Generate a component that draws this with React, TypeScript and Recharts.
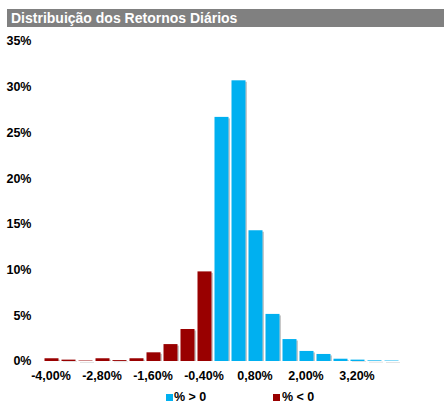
import React from "react";
import { BarChart, Bar, XAxis, YAxis } from "recharts";

const categories = [
  "-4,00%", "-3,60%", "-3,20%", "-2,80%", "-2,40%", "-2,00%", "-1,60%",
  "-1,20%", "-0,80%", "-0,40%", "0,00%", "0,40%", "0,80%", "1,20%",
  "1,60%", "2,00%", "2,40%", "2,80%", "3,20%", "3,60%", "4,00%",
];
const negValues: (number | null)[] = [
  0.3, 0.15, 0.05, 0.3, 0.1, 0.3, 0.95, 1.85, 3.5, 9.8,
  null, null, null, null, null, null, null, null, null, null, null,
];
const posValues: (number | null)[] = [
  null, null, null, null, null, null, null, null, null, null,
  26.7, 30.7, 14.3, 5.15, 2.4, 1.1, 0.77, 0.25, 0.15, 0.07, 0.05,
];
const yTicks = [0, 5, 10, 15, 20, 25, 30, 35];
const title = "Distribuição dos Retornos Diários";
const posName = "% > 0";
const negName = "% < 0";
const posColor = "#00B0F0";
const negColor = "#990000";

const data = categories.map((c, i) => ({ cat: c, pos: posValues[i], neg: negValues[i] }));

const FONT = "'Liberation Sans', Arial, sans-serif";

const ShadowBar = (props: any) => {
  const { x, y, width, height, fill } = props;
  if (!height || height <= 0 || !isFinite(height)) return null;
  return (
    <g>
      <rect x={x + 1.5} y={y + 1.5} width={width} height={Math.max(height - 1.5, 0.5)} fill="#9a9a9a" opacity={0.55} />
      <rect x={x} y={y} width={width} height={height} fill={fill} />
    </g>
  );
};

export default function App() {
  return (
    <div style={{ position: "absolute", left: 0, top: 0, width: 444, height: 403, background: "#fff", fontFamily: FONT }}>
      <div
        style={{
          position: "absolute", left: 7, top: 9, width: 437, height: 18,
          background: "#808080", color: "#fff", fontWeight: "bold", fontSize: 14,
          lineHeight: "18px", paddingLeft: 4, boxSizing: "border-box",
        }}
      >
        {title}
      </div>
      <BarChart
        width={444}
        height={403}
        data={data}
        margin={{ top: 41, right: 44.5, bottom: 0, left: 6.5 }}
        barSize={14}
      >
        <XAxis
          dataKey="cat"
          axisLine={false}
          tickLine={false}
          interval={2}
          height={42}
          tickMargin={4}
          tick={{ fill: "#000", fontSize: 12.5, fontWeight: "bold", fontFamily: FONT }}
        />
        <YAxis
          domain={[0, 35]}
          ticks={yTicks}
          width={36}
          axisLine={false}
          tickLine={false}
          tickMargin={5}
          tickFormatter={(v: number) => `${v}%`}
          tick={{ fill: "#000", fontSize: 12.5, fontWeight: "bold", fontFamily: FONT }}
        />
        <Bar dataKey="neg" name={negName} stackId="a" fill={negColor} shape={ShadowBar} isAnimationActive={false} />
        <Bar dataKey="pos" name={posName} stackId="a" fill={posColor} shape={ShadowBar} isAnimationActive={false} />
      </BarChart>
      <div style={{ position: "absolute", top: 390, left: 0, width: 444, height: 14, fontSize: 12.5, fontWeight: "bold", color: "#000" }}>
        <div style={{ position: "absolute", left: 166, top: 4, width: 7, height: 7, background: posColor }} />
        <div style={{ position: "absolute", left: 174, top: 0, lineHeight: "14px", whiteSpace: "nowrap" }}>{posName}</div>
        <div style={{ position: "absolute", left: 273, top: 4, width: 7, height: 7, background: negColor }} />
        <div style={{ position: "absolute", left: 282, top: 0, lineHeight: "14px", whiteSpace: "nowrap" }}>{negName}</div>
      </div>
    </div>
  );
}
